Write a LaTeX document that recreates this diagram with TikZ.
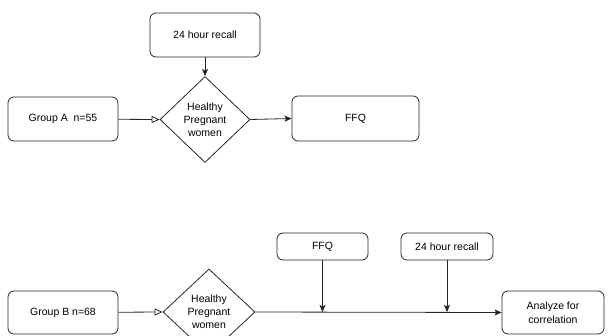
\documentclass[tikz,border=0pt]{standalone}
\usepackage{fontspec}
\setmainfont{Liberation Sans}
\usetikzlibrary{shapes.geometric,arrows.meta}
\begin{document}
\begin{tikzpicture}[x=1pt,y=-1pt,
  font=\fontsize{10.5}{13}\selectfont,
  box/.style={draw=black!85, line width=0.8pt, rounded corners=6pt, inner sep=0pt, align=center},
  dia/.style={draw=black!85, line width=0.8pt, diamond, inner sep=0pt, align=center, minimum width=90pt, minimum height=86pt},
  con/.style={draw=black!85, line width=0.8pt, -{Stealth[length=7pt,width=6pt,inset=1.5pt]}},
  opencon/.style={draw=black!85, line width=0.8pt, -{Triangle[open,length=8pt,width=7pt]}}]
\useasboundingbox (0,0) rectangle (611,335);
\clip (0,0) rectangle (611,335);
% top section
\node[box, minimum width=110pt, minimum height=44pt] (recA) at (205,35) {24 hour recall};
\node[box, minimum width=110pt, minimum height=44pt] (grpA) at (63,119) {Group A\ \ n=55};
\node[dia] (diaA) at (205,119.5) {Healthy\\Pregnant\\women};
\node[box, minimum width=127pt, minimum height=45pt] (ffqA) at (355.5,118.5) {FFQ};
\draw[con] (recA) -- (diaA.north);
\draw[opencon] (grpA) -- (diaA.west);
\draw[con] (diaA.east) -- (ffqA.west);
% bottom section
\node[box, minimum width=110pt, minimum height=43pt] (grpB) at (63,312.5) {Group B n=68};
\node[dia, minimum width=92pt] (diaB) at (209,312) {Healthy\\Pregnant\\women};
\node[box, minimum width=91pt, minimum height=27pt] (ffqB) at (322.5,246.5) {FFQ};
\node[box, minimum width=92pt, minimum height=27pt] (recB) at (447,246.5) {24 hour recall};
\node[box, minimum width=102pt, minimum height=43pt, font=\fontsize{10.5}{14}\selectfont] (anB) at (553,312.5) {Analyze for\\correlation};
\coordinate (j1) at (ffqB.south |- diaB.east);
\coordinate (j2) at (recB.south |- diaB.east);
\draw[opencon] (grpB) -- (diaB.west);
\draw[con] (diaB.east) -- (anB.west);
\draw[con] (ffqB) -- (j1);
\draw[con] (recB) -- (j2);
\end{tikzpicture}
\end{document}
